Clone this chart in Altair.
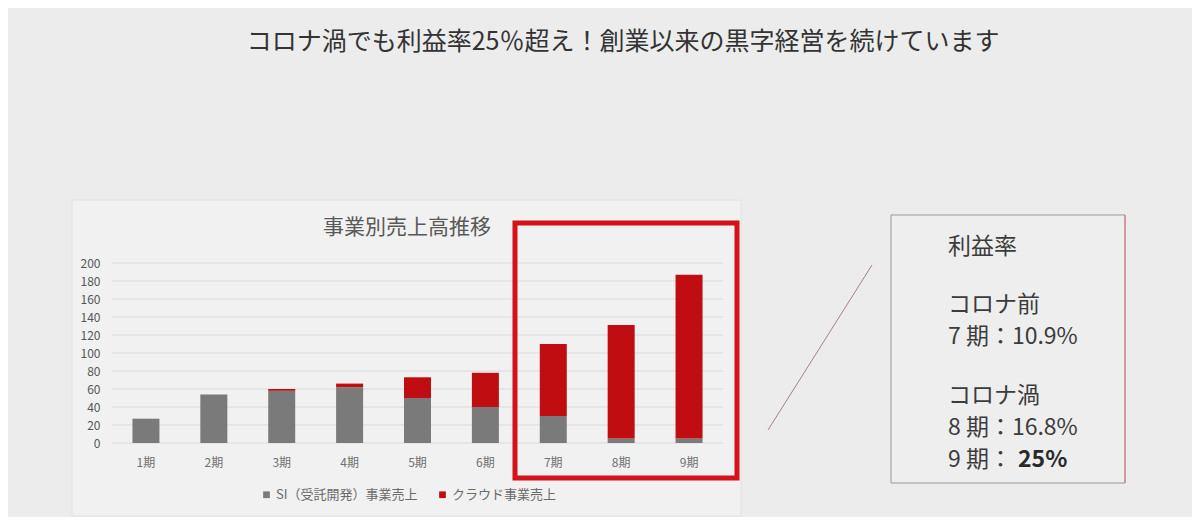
import altair as alt
import pandas as pd

# values (unit: million yen, approx.)
periods = ["1期", "2期", "3期", "4期", "5期", "6期", "7期", "8期", "9期"]
si_sales = [27, 54, 58, 62, 50, 40, 30, 5, 5]
cloud_sales = [0, 0, 2, 4, 23, 38, 80, 126, 182]
series = ["SI（受託開発）事業売上", "クラウド事業売上"]
y_ticks = list(range(0, 201, 20))

page_title = "コロナ渦でも利益率25％超え！創業以来の黒字経営を続けています"
chart_title = "事業別売上高推移"
margin_lines = ["利益率", "コロナ前", "7 期：10.9%", "コロナ渦", "8 期：16.8%", "9 期："]
margin_bold = "25%"

FONT = "Noto Sans CJK JP"
GRAY = "#7a7a7a"
RED = "#bf0d12"

# plot origin on the page, used to place the slide decorations
X0, Y0 = 112, 263
W, H = 611, 180


def px(x):
    return x - X0


def py(y):
    return y - Y0


rows = []
for i, p in enumerate(periods):
    rows.append({"period": p, "series": series[0], "idx": 0, "value": si_sales[i]})
    rows.append({"period": p, "series": series[1], "idx": 1, "value": cloud_sales[i]})
df = pd.DataFrame(rows)
grid_df = pd.DataFrame({"value": y_ticks})
one = pd.DataFrame({"k": [0]})

y_scale = alt.Scale(domain=[0, 200])
y_axis = alt.Axis(values=y_ticks, labelPadding=12, labelColor="#555555",
                  grid=False, domain=False, ticks=False, zindex=1,
                  labelOverlap=False, labelFont=FONT, labelFontSize=12)

panel = alt.Chart(one).mark_rect(fill="#f1f1f1", stroke="#e2e2e2").encode(
    x=alt.value(px(72)), x2=alt.value(px(741)),
    y=alt.value(py(200)), y2=alt.value(py(516)),
)

grid = alt.Chart(grid_df).mark_rule(color="#d9d9d9", strokeWidth=1).encode(
    y=alt.Y("value:Q", scale=y_scale, title=None, axis=y_axis),
    x=alt.value(0), x2=alt.value(W),
)

bars = alt.Chart(df).mark_bar(size=27).encode(
    x=alt.X(
        "period:N", sort=periods, title=None,
        scale=alt.Scale(paddingInner=0, paddingOuter=0),
        axis=alt.Axis(labelAngle=0, labelPadding=14, labelColor="#707070",
                      grid=False, domain=False, ticks=False, zindex=1,
                      labelFont=FONT, labelFontSize=12),
    ),
    y=alt.Y("value:Q", stack=True, title=None, scale=y_scale, axis=y_axis),
    color=alt.Color(
        "series:N", scale=alt.Scale(domain=series, range=[GRAY, RED]),
        legend=alt.Legend(orient="none", legendX=148, legendY=225, direction="horizontal",
                          title=None, symbolType="square", symbolSize=45,
                          symbolStrokeWidth=0, labelFontSize=13, labelColor="#6a6a6a",
                          labelFont=FONT, columnPadding=18, labelOffset=3),
    ),
    order=alt.Order("idx:Q"),
)

red_box = alt.Chart(one).mark_rect(fill=None, stroke="#d3121a", strokeWidth=5).encode(
    x=alt.value(px(515)), x2=alt.value(px(737)),
    y=alt.value(py(223)), y2=alt.value(py(478)),
)

title_text = alt.Chart(one).mark_text(
    font=FONT, fontSize=25, color="#333333", align="center", baseline="middle"
).encode(x=alt.value(px(623)), y=alt.value(py(42)), text=alt.value(page_title))

sub_title = alt.Chart(one).mark_text(
    font=FONT, fontSize=21, color="#595959", align="center", baseline="middle"
).encode(x=alt.value(px(407)), y=alt.value(py(228)), text=alt.value(chart_title))

link_line = alt.Chart(one).mark_rule(color="#a88088", strokeWidth=1).encode(
    x=alt.value(px(768)), y=alt.value(py(430)),
    x2=alt.value(px(872)), y2=alt.value(py(265)),
)

side_box = alt.Chart(one).mark_rect(fill="#eeeeee", stroke="#999999", strokeWidth=1).encode(
    x=alt.value(px(891)), x2=alt.value(px(1125)),
    y=alt.value(py(215)), y2=alt.value(py(483)),
)
side_edge = alt.Chart(one).mark_rule(color="#e07070", strokeWidth=1).encode(
    x=alt.value(px(1125)), y=alt.value(py(215)), y2=alt.value(py(483)),
)

line_y = [247, 305, 337, 396, 428, 460]
side_texts = []
for txt, yy in zip(margin_lines, line_y):
    side_texts.append(
        alt.Chart(one).mark_text(
            font=FONT, fontSize=23, color="#3c3c3c", align="left", baseline="middle"
        ).encode(x=alt.value(px(948)), y=alt.value(py(yy)), text=alt.value(txt))
    )
bold_text = alt.Chart(one).mark_text(
    font=FONT, fontSize=23, fontWeight="bold", color="#2a2a2a", align="left", baseline="middle"
).encode(x=alt.value(px(1018)), y=alt.value(py(460)), text=alt.value(margin_bold))

chart = alt.layer(
    panel, grid, bars, red_box, title_text, sub_title, link_line, side_box, side_edge,
    *side_texts, bold_text,
).properties(
    width=W,
    height=H,
    autosize=alt.AutoSizeParams(type="none"),
    padding={"left": X0 - 8, "top": Y0 - 8, "right": 1184 - (X0 - 8) - W,
             "bottom": 509 - (Y0 - 8) - H},
    background="#ececec",
).configure_view(
    stroke=None
).configure_axisY(
    labelOverlap=False
)

chart.save("out.html", embed_options={"renderer": "svg", "actions": False})
